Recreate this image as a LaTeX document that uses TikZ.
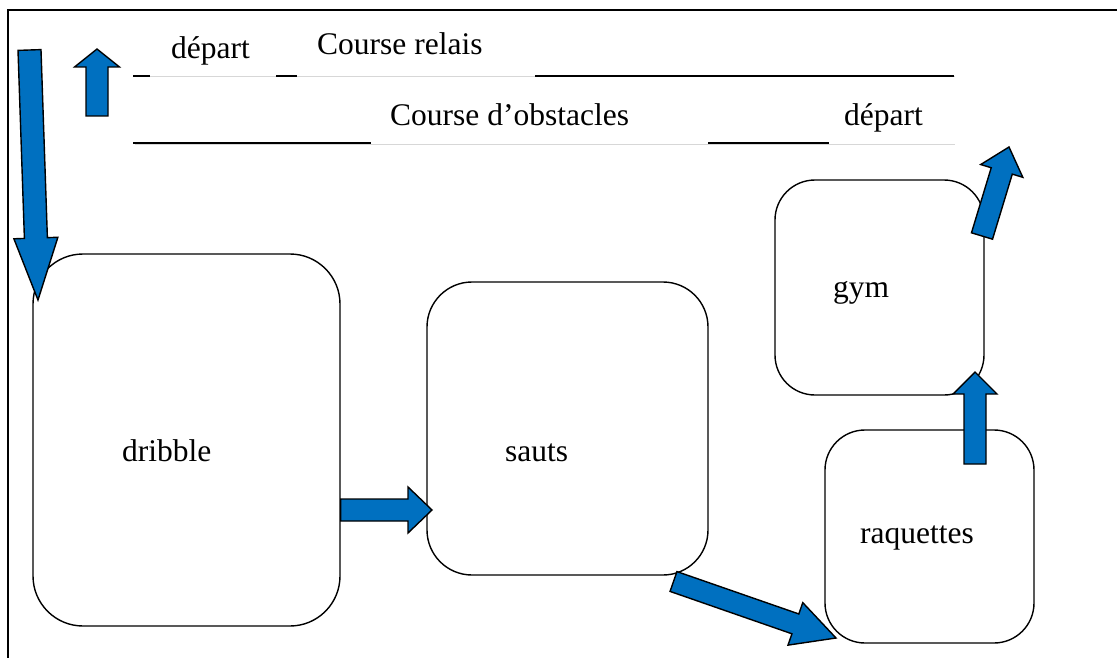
\documentclass[tikz,border=0pt]{standalone}
\usepackage{fontspec}
\setmainfont{Liberation Serif}
\usetikzlibrary{calc}
\definecolor{arrowblue}{RGB}{0,112,192}
\definecolor{rulegray}{RGB}{215,215,215}

% block arrow: tail, tip, shaft half width, head half width, head length
\newcommand{\bluearrow}[5]{%
  \coordinate (hb) at ($(#2)!#5!(#1)$);
  \draw[block_arrow] ($(#1)!#3!90:(#2)$) -- ($(hb)!#3!90:(#2)$) -- ($(hb)!#4!90:(#2)$) -- (#2)
    -- ($(hb)!#4!-90:(#2)$) -- ($(hb)!#3!-90:(#2)$) -- ($(#1)!#3!-90:(#2)$) -- cycle;
}

\begin{document}
\begin{tikzpicture}[x=1pt, y=-1pt,
    frame/.style={black, line width=2pt},
    gray_line/.style={rulegray, line width=1pt},
    blank_line/.style={black, line width=2pt},
    station/.style={draw, line width=1.4pt, rectangle, inner sep=0pt},
    lbl/.style={font=\fontsize{31.5}{38}\selectfont, inner sep=0pt, anchor=base west},
    block_arrow/.style={fill=arrowblue, draw=black, line width=1.4pt, line join=miter}
]
    \useasboundingbox (0,0) rectangle (1117,658);
    % Cadre
    \draw[frame] (8,658) -- (8,10) -- (1117,10);
    % Lignes du titre
    \draw[gray_line] (135,77) -- (955,77);
    \draw[gray_line] (135,145) -- (955,145);
    \draw[blank_line] (133,76) -- (150,76);
    \draw[blank_line] (276,76) -- (297,76);
    \draw[blank_line] (535,76) -- (954,76);
    \draw[blank_line] (133,143) -- (371,143);
    \draw[blank_line] (708,143) -- (829,143);
    \node[lbl] (depart1) at (171,59) {départ};
    \node[lbl] (relais) at (317,55) {Course relais};
    \node[lbl] (obstacles) at (390,126) {Course d’obstacles};
    \node[lbl] (depart2) at (844,126) {départ};
    % Ateliers
    \node[station, minimum width=307pt, minimum height=372pt, rounded corners=50pt] (dribble) at (186.5,440) {};
    \node[station, minimum width=281pt, minimum height=293pt, rounded corners=45pt] (sauts) at (567.5,428.5) {};
    \node[station, minimum width=209pt, minimum height=215pt, rounded corners=40pt] (gym) at (879.5,287.5) {};
    \node[station, minimum width=209pt, minimum height=213pt, rounded corners=40pt] (raquettes) at (929.5,536.5) {};
    \node[lbl] (dribbleT) at (122,461) {dribble};
    \node[lbl] (sautsT) at (505,461) {sauts};
    \node[lbl] (gymT) at (833,297) {gym};
    \node[lbl] (raquettesT) at (860,543) {raquettes};
    % Extremites des fleches
    \coordinate (startA) at (29.5,50);   \coordinate (startB) at (38,300);
    \coordinate (backA) at (97,116);     \coordinate (backB) at (97,49);
    \coordinate (dsA) at (dribble.east |- 0,510); \coordinate (dsB) at (432,510);
    \coordinate (srA) at (673.5,581.5);  \coordinate (srB) at (836,638);
    \coordinate (rgA) at (975,464);      \coordinate (rgB) at (975,372);
    \coordinate (endA) at (982,236);     \coordinate (endB) at (1009,147);
    % Fleches
    \bluearrow{startA}{startB}{11.5pt}{22pt}{62pt}
    \bluearrow{backA}{backB}{11pt}{22.5pt}{18pt}
    \bluearrow{dsA}{dsB}{11pt}{23pt}{24pt}
    \bluearrow{srA}{srB}{10.5pt}{22.5pt}{43pt}
    \bluearrow{rgA}{rgB}{11pt}{22pt}{22pt}
    \bluearrow{endA}{endB}{11pt}{22pt}{25pt}
\end{tikzpicture}
\end{document}
